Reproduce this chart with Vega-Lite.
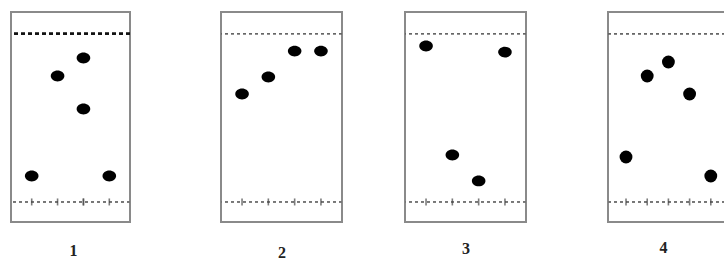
{
  "$schema": "https://vega.github.io/schema/vega-lite/v6.json",
  "padding": {"top": 11, "left": 10, "right": 0, "bottom": 0},
  "background": "white",
  "spacing": 0,
  "config": {
    "view": {"stroke": null},
    "axis": {"grid": false, "labels": false, "ticks": false, "domain": false, "titleFont": "Liberation Serif", "titleFontSize": 16, "titleFontWeight": "bold", "titleColor": "#222"}
  },
  "datasets": {
    "spots": [
      {"panel": 1, "lane": 1, "rf": 0.154},
      {"panel": 1, "lane": 2, "rf": 0.748},
      {"panel": 1, "lane": 3, "rf": 0.855},
      {"panel": 1, "lane": 3, "rf": 0.552},
      {"panel": 1, "lane": 4, "rf": 0.154},
      {"panel": 2, "lane": 1, "rf": 0.641},
      {"panel": 2, "lane": 2, "rf": 0.742},
      {"panel": 2, "lane": 3, "rf": 0.896},
      {"panel": 2, "lane": 4, "rf": 0.896},
      {"panel": 3, "lane": 1, "rf": 0.926},
      {"panel": 3, "lane": 2, "rf": 0.279},
      {"panel": 3, "lane": 3, "rf": 0.125},
      {"panel": 3, "lane": 4, "rf": 0.89},
      {"panel": 4, "lane": 1, "rf": 0.267},
      {"panel": 4, "lane": 2, "rf": 0.748},
      {"panel": 4, "lane": 3, "rf": 0.831},
      {"panel": 4, "lane": 4, "rf": 0.641},
      {"panel": 4, "lane": 5, "rf": 0.154}
    ],
    "blank": [{"a": 0}]
  },
  "hconcat": [
    {
      "width": 119, "height": 210,
      "data": {"name": "spots"},
      "transform": [{"filter": "datum.panel == 1"}],
      "layer": [
        {"mark": {"type": "rect", "fill": null, "stroke": "#8a8a8a", "strokeWidth": 2}, "encoding": {}},
        {"mark": {"type": "rule", "strokeDash": [4, 3], "color": "#111", "strokeWidth": 1.8}, "encoding": {"y": {"datum": 1, "type": "quantitative", "axis": null}}},
        {"mark": {"type": "rule", "strokeDash": [3, 3], "color": "#777", "strokeWidth": 1.2}, "encoding": {"y": {"datum": 0, "type": "quantitative", "axis": null}}},
        {"mark": {"type": "tick", "orient": "vertical", "color": "#444", "thickness": 1.6, "size": 7}, "encoding": {"x": {"field": "lane", "type": "quantitative", "axis": {"title": "1", "titlePadding": 20, "titleX": 62}}, "y": {"datum": 0, "type": "quantitative", "axis": null}}},
        {"mark": {"type": "point", "filled": true, "shape": "M-1,0A1,0.8 0 1,1 1,0A1,0.8 0 1,1 -1,0Z", "size": 185, "color": "black", "opacity": 1},
         "encoding": {
           "x": {"field": "lane", "type": "quantitative", "scale": {"domain": [0.2, 4.8], "nice": false, "zero": false}, "axis": {"title": "1", "titlePadding": 20, "titleX": 62}},
           "y": {"field": "rf", "type": "quantitative", "scale": {"domain": [-0.119, 1.128], "nice": false, "zero": false}, "axis": null}
         }}
      ]
    },
    {"width": 89, "height": 210, "data": {"name": "blank"}, "mark": {"type": "point", "opacity": 0}, "encoding": {}},
    {
      "width": 121, "height": 210,
      "data": {"name": "spots"},
      "transform": [{"filter": "datum.panel == 2"}],
      "layer": [
        {"mark": {"type": "rect", "fill": null, "stroke": "#8a8a8a", "strokeWidth": 2}, "encoding": {}},
        {"mark": {"type": "rule", "strokeDash": [3, 3], "color": "#666", "strokeWidth": 1.3}, "encoding": {"y": {"datum": 1, "type": "quantitative", "axis": null}}},
        {"mark": {"type": "rule", "strokeDash": [3, 3], "color": "#777", "strokeWidth": 1.2}, "encoding": {"y": {"datum": 0, "type": "quantitative", "axis": null}}},
        {"mark": {"type": "tick", "orient": "vertical", "color": "#444", "thickness": 1.6, "size": 7}, "encoding": {"x": {"field": "lane", "type": "quantitative", "axis": {"title": "2", "titlePadding": 22}}, "y": {"datum": 0, "type": "quantitative", "axis": null}}},
        {"mark": {"type": "point", "filled": true, "shape": "M-1,0A1,0.8 0 1,1 1,0A1,0.8 0 1,1 -1,0Z", "size": 185, "color": "black", "opacity": 1},
         "encoding": {
           "x": {"field": "lane", "type": "quantitative", "scale": {"domain": [0.2, 4.8], "nice": false, "zero": false}, "axis": {"title": "2", "titlePadding": 22}},
           "y": {"field": "rf", "type": "quantitative", "scale": {"domain": [-0.119, 1.128], "nice": false, "zero": false}, "axis": null}
         }}
      ]
    },
    {"width": 61, "height": 210, "data": {"name": "blank"}, "mark": {"type": "point", "opacity": 0}, "encoding": {}},
    {
      "width": 121, "height": 210,
      "data": {"name": "spots"},
      "transform": [{"filter": "datum.panel == 3"}],
      "layer": [
        {"mark": {"type": "rect", "fill": null, "stroke": "#8a8a8a", "strokeWidth": 2}, "encoding": {}},
        {"mark": {"type": "rule", "strokeDash": [3, 3], "color": "#666", "strokeWidth": 1.3}, "encoding": {"y": {"datum": 1, "type": "quantitative", "axis": null}}},
        {"mark": {"type": "rule", "strokeDash": [3, 3], "color": "#777", "strokeWidth": 1.2}, "encoding": {"y": {"datum": 0, "type": "quantitative", "axis": null}}},
        {"mark": {"type": "tick", "orient": "vertical", "color": "#444", "thickness": 1.6, "size": 7}, "encoding": {"x": {"field": "lane", "type": "quantitative", "axis": {"title": "3", "titlePadding": 18}}, "y": {"datum": 0, "type": "quantitative", "axis": null}}},
        {"mark": {"type": "point", "filled": true, "shape": "M-1,0A1,0.8 0 1,1 1,0A1,0.8 0 1,1 -1,0Z", "size": 185, "color": "black", "opacity": 1},
         "encoding": {
           "x": {"field": "lane", "type": "quantitative", "scale": {"domain": [0.2, 4.8], "nice": false, "zero": false}, "axis": {"title": "3", "titlePadding": 18}},
           "y": {"field": "rf", "type": "quantitative", "scale": {"domain": [-0.119, 1.128], "nice": false, "zero": false}, "axis": null}
         }}
      ]
    },
    {"width": 80, "height": 210, "data": {"name": "blank"}, "mark": {"type": "point", "opacity": 0}, "encoding": {}},
    {
      "width": 117, "height": 210,
      "data": {"name": "spots"},
      "transform": [{"filter": "datum.panel == 4"}],
      "layer": [
        {"mark": {"type": "rect", "fill": null, "stroke": "#8a8a8a", "strokeWidth": 2}, "encoding": {}},
        {"mark": {"type": "rule", "strokeDash": [3, 3], "color": "#666", "strokeWidth": 1.3}, "encoding": {"y": {"datum": 1, "type": "quantitative", "axis": null}}},
        {"mark": {"type": "rule", "strokeDash": [3, 3], "color": "#777", "strokeWidth": 1.2}, "encoding": {"y": {"datum": 0, "type": "quantitative", "axis": null}}},
        {"mark": {"type": "tick", "orient": "vertical", "color": "#444", "thickness": 1.6, "size": 7}, "encoding": {"x": {"field": "lane", "type": "quantitative", "axis": {"title": "4", "titlePadding": 17, "titleX": 55}}, "y": {"datum": 0, "type": "quantitative", "axis": null}}},
        {"mark": {"type": "point", "filled": true, "shape": "circle", "size": 165, "color": "black", "opacity": 1},
         "encoding": {
           "x": {"field": "lane", "type": "quantitative", "scale": {"domain": [0.15, 5.67], "nice": false, "zero": false}, "axis": {"title": "4", "titlePadding": 17, "titleX": 55}},
           "y": {"field": "rf", "type": "quantitative", "scale": {"domain": [-0.119, 1.128], "nice": false, "zero": false}, "axis": null}
         }}
      ]
    }
  ]
}
